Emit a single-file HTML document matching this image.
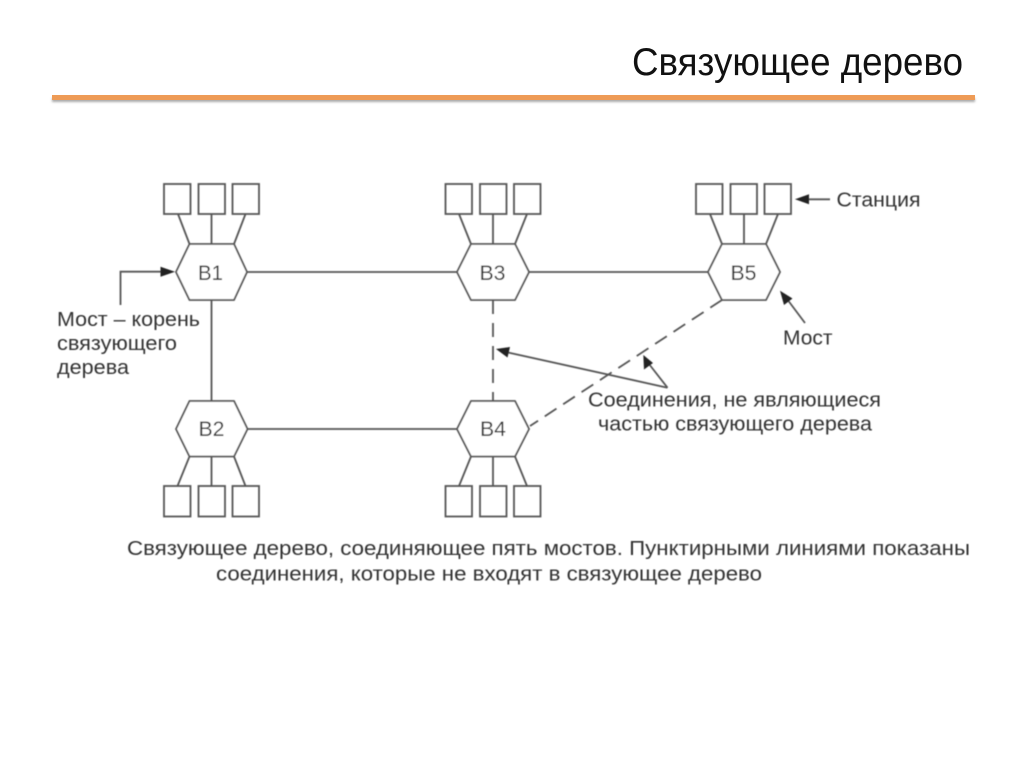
<!DOCTYPE html>
<html lang="ru">
<head>
<meta charset="utf-8">
<title>Связующее дерево</title>
<style>
html,body{margin:0;padding:0;background:#fff;}
body{width:1024px;height:767px;overflow:hidden;}
svg{display:block;}
text{font-family:"Liberation Sans","DejaVu Sans",sans-serif;}
</style>
</head>
<body>
<svg width="1024" height="767" viewBox="0 0 1024 767" xmlns="http://www.w3.org/2000/svg">
<defs>
<filter id="soft" x="-5%" y="-5%" width="110%" height="110%"><feGaussianBlur stdDeviation="0.45"/></filter>
<filter id="sh" x="-2%" y="-100%" width="104%" height="400%"><feGaussianBlur stdDeviation="1"/></filter>
</defs>
<rect width="1024" height="767" fill="#fff"/>
<text x="632" y="75" font-size="39" fill="#111" textLength="331" lengthAdjust="spacingAndGlyphs">Связующее дерево</text>
<rect x="52" y="98" width="923" height="4" fill="#aaa" filter="url(#sh)"/>
<rect x="52" y="95" width="923" height="5" fill="#ee9b56"/>

<g filter="url(#soft)">
<g fill="none" stroke="#555" stroke-width="1.8">
<!-- backbone lines -->
<path d="M247 272H457M529 272H708M247.500 429H457M211.500 300V401"/>
<path d="M493 300V401" stroke-dasharray="14 9"/>
<path d="M722 300L530 426" stroke-dasharray="14 8"/>

<!-- top stations B1 -->
<rect x="164" y="184" width="26.500" height="30"/><rect x="198.500" y="184" width="26.500" height="30"/><rect x="232.500" y="184" width="26.500" height="30"/>
<path d="M178 214L189.500 244M211.500 214V244M245.500 214L234 244"/>
<!-- top stations B3 -->
<rect x="445.500" y="184" width="26.500" height="30"/><rect x="480" y="184" width="26.500" height="30"/><rect x="514" y="184" width="26.500" height="30"/>
<path d="M459 214L471 244M493 214V244M527 214L515 244"/>
<!-- top stations B5 -->
<rect x="696" y="184" width="26.500" height="30"/><rect x="730.500" y="184" width="26.500" height="30"/><rect x="764.500" y="184" width="26.500" height="30"/>
<path d="M710 214L722 244M744 214V244M778 214L766 244"/>
<!-- bottom stations B2 -->
<rect x="164" y="486" width="26.500" height="30.500"/><rect x="198.500" y="486" width="26.500" height="30.500"/><rect x="232.500" y="486" width="26.500" height="30.500"/>
<path d="M189.500 456.500L177.500 486M211.500 456.500V486M234 456.500L245.500 486"/>
<!-- bottom stations B4 -->
<rect x="445.500" y="486" width="26.500" height="30.500"/><rect x="480" y="486" width="26.500" height="30.500"/><rect x="514" y="486" width="26.500" height="30.500"/>
<path d="M471 456.500L459 486M493 456.500V486M515 456.500L527 486"/>

<!-- hexagons -->
<path fill="#fff" d="M176 272L189.500 244H234L247 272L234 300H189.500Z"/>
<path fill="#fff" d="M457 272L471 244H515L529 272L515 300H471Z"/>
<path fill="#fff" d="M708 272L722 244H766L780 272L766 300H722Z"/>
<path fill="#fff" d="M176 429L189.500 401H234L247.500 429L234 456.500H189.500Z"/>
<path fill="#fff" d="M457 429L471 401H515L529 429L515 456.500H471Z"/>

<!-- arrows -->
<path d="M120.500 305V271.700H165"/>
<path d="M830 199.300H806"/>
<path d="M805 323L787 299"/>
<path d="M667.500 387.700L508 352.500"/>
<path d="M667.500 387.700L649 364"/>
</g>
<g fill="#222">
<path d="M175 271.700L160.500 266.700V276.700Z"/>
<path d="M795 199.300L809 194.300V204.300Z"/>
<path d="M780 290.700L784 305L792.500 298.500Z"/>
<path d="M496 349L510 347L507.500 357.500Z"/>
<path d="M643.300 355L644 369.500L653 363Z"/>
</g>

<g fill="#333" font-size="21">
<text x="198" y="280" textLength="25" lengthAdjust="spacingAndGlyphs">B1</text>
<text x="479.500" y="280" textLength="26" lengthAdjust="spacingAndGlyphs">B3</text>
<text x="730.500" y="280" textLength="26" lengthAdjust="spacingAndGlyphs">B5</text>
<text x="198.500" y="436" textLength="26" lengthAdjust="spacingAndGlyphs">B2</text>
<text x="480" y="436" textLength="26" lengthAdjust="spacingAndGlyphs">B4</text>
<g font-size="20.500">
<text x="836.500" y="206.500" textLength="84" lengthAdjust="spacingAndGlyphs">Станция</text>
<text x="783" y="344.500" textLength="49.500" lengthAdjust="spacingAndGlyphs">Мост</text>
<text x="57" y="326" textLength="143" lengthAdjust="spacingAndGlyphs">Мост – корень</text>
<text x="57" y="350" textLength="120" lengthAdjust="spacingAndGlyphs">связующего</text>
<text x="57" y="374" textLength="72" lengthAdjust="spacingAndGlyphs">дерева</text>
<text x="588" y="406.500" textLength="293" lengthAdjust="spacingAndGlyphs">Соединения, не являющиеся</text>
<text x="598" y="430.500" textLength="274" lengthAdjust="spacingAndGlyphs">частью связующего дерева</text>
<text x="127" y="555" textLength="843" lengthAdjust="spacingAndGlyphs">Связующее дерево, соединяющее пять мостов. Пунктирными линиями показаны</text>
<text x="216" y="580.500" textLength="546" lengthAdjust="spacingAndGlyphs">соединения, которые не входят в связующее дерево</text>
</g>
</g>
</g>
</svg>
</body>
</html>
